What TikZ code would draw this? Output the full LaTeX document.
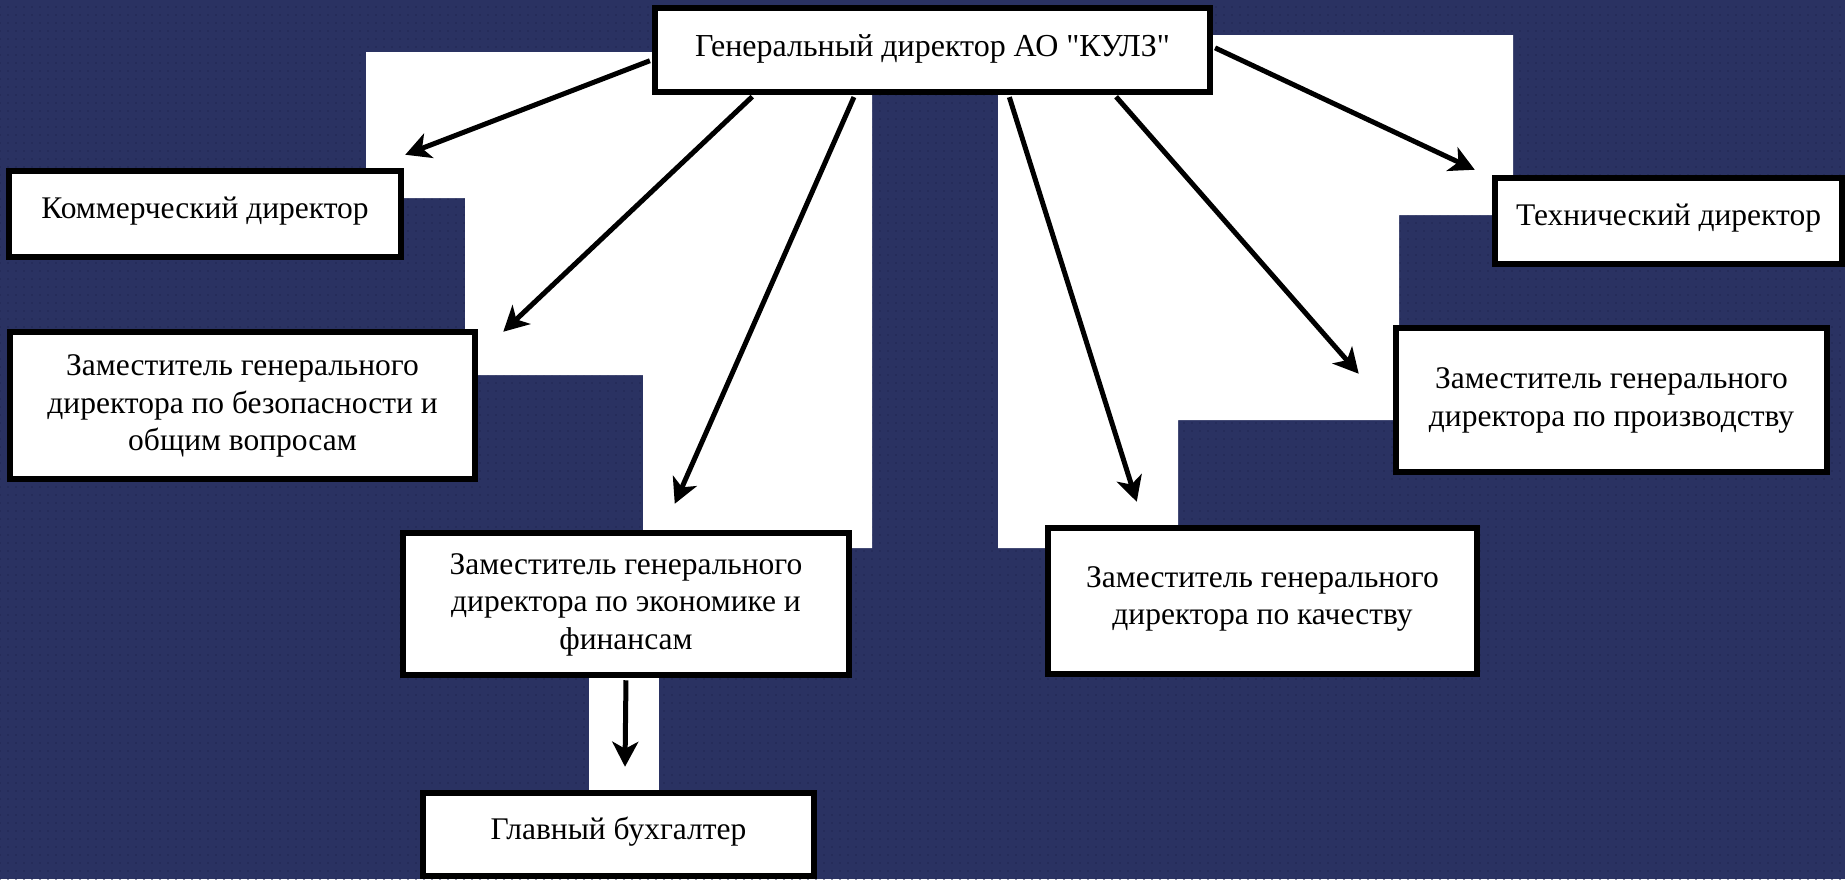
\documentclass[tikz,border=0pt]{standalone}
\usepackage{fontspec}
\setmainfont{Liberation Serif}[Ligatures=TeXOff]
\usetikzlibrary{arrows.meta,calc,patterns.meta}
\definecolor{bgnavy}{RGB}{42,50,98}
\definecolor{bgdot}{RGB}{32,39,82}
\newcommand\boxtext[2]{\begin{tabular}{@{}c@{}}#1\end{tabular}\rule[-#2pt]{0pt}{0pt}}
\begin{document}
\begin{tikzpicture}[x=1pt,y=-1pt,
  box/.style={draw=black, line width=6.5pt, fill=white, inner sep=0pt,
    font=\fontsize{31.5}{37.5}\selectfont},
  conn/.style={draw=black, line width=5pt, shorten <=2pt,
    -{Stealth[length=25pt,width=26pt,inset=7pt]}},
  whitezone/.style={fill=white}]
\useasboundingbox (0,0) rectangle (1845,879);
\fill[bgnavy] (0,0) rectangle (1845,879);
\fill[pattern={Dots[radius=0.9pt,distance=8pt]}, pattern color=bgdot] (0,0) rectangle (1845,879);
% white backdrop zones
\fill[whitezone] (366,52) -- (872,52) -- (872,548) -- (643,548) -- (643,375)
  -- (465,375) -- (465,198) -- (366,198) -- cycle;
\fill[whitezone] (998,35) -- (1513,35) -- (1513,215) -- (1399,215) -- (1399,420)
  -- (1178,420) -- (1178,548) -- (998,548) -- cycle;
\fill[whitezone] (589,678) rectangle (659,790);
% boxes
\node[box, minimum width=555, minimum height=84, font=\fontsize{32}{37.5}\selectfont] (top) at (932.5,50)
  {\boxtext{Генеральный директор АО "КУЛЗ"}{14}};
\node[box, minimum width=392, minimum height=86] (komm) at (205,214)
  {\boxtext{Коммерческий директор}{18}};
\node[box, minimum width=465, minimum height=147] (bez) at (242.5,405.5)
  {\boxtext{Заместитель генерального\\директора по безопасности и\\общим вопросам}{8}};
\node[box, minimum width=446, minimum height=142] (ekon) at (626,604)
  {\boxtext{Заместитель генерального\\директора по экономике и\\финансам}{0}};
\node[box, minimum width=391, minimum height=83] (glav) at (618.5,834.5)
  {\boxtext{Главный бухгалтер}{18}};
\node[box, minimum width=429, minimum height=146] (kach) at (1262.5,601)
  {\boxtext{Заместитель генерального\\директора по качеству}{36}};
\node[box, minimum width=431, minimum height=144] (prod) at (1611.5,400)
  {\boxtext{Заместитель генерального\\директора по производству}{26}};
\node[box, minimum width=347, minimum height=86] (tech) at (1668.5,221)
  {\boxtext{Технический директор}{18}};
% connectors
\draw[conn] ($(top.west)+(0,10)$) -- ($(komm.north east)+(1,-13)$);
\draw[conn] ($(top.south west)+(102,0)$) -- ($(bez.north east)+(25,3)$);
\draw[conn] ($(top.south west)+(203,0)$) -- ($(ekon.north west)+(275,-26)$);
\draw[conn] ($(top.south west)+(357,0)$) -- ($(kach.north west)+(92,-23)$);
\draw[conn] ($(top.south west)+(463,0)$) -- ($(prod.north west)+(-34,49)$);
\draw[conn] ($(top.east)+(0,-3)$) -- ($(tech.north west)+(-17,-5)$);
\draw[conn] (ekon.south) -- ($(glav.north)+(6.5,-23)$);
\end{tikzpicture}
\end{document}
